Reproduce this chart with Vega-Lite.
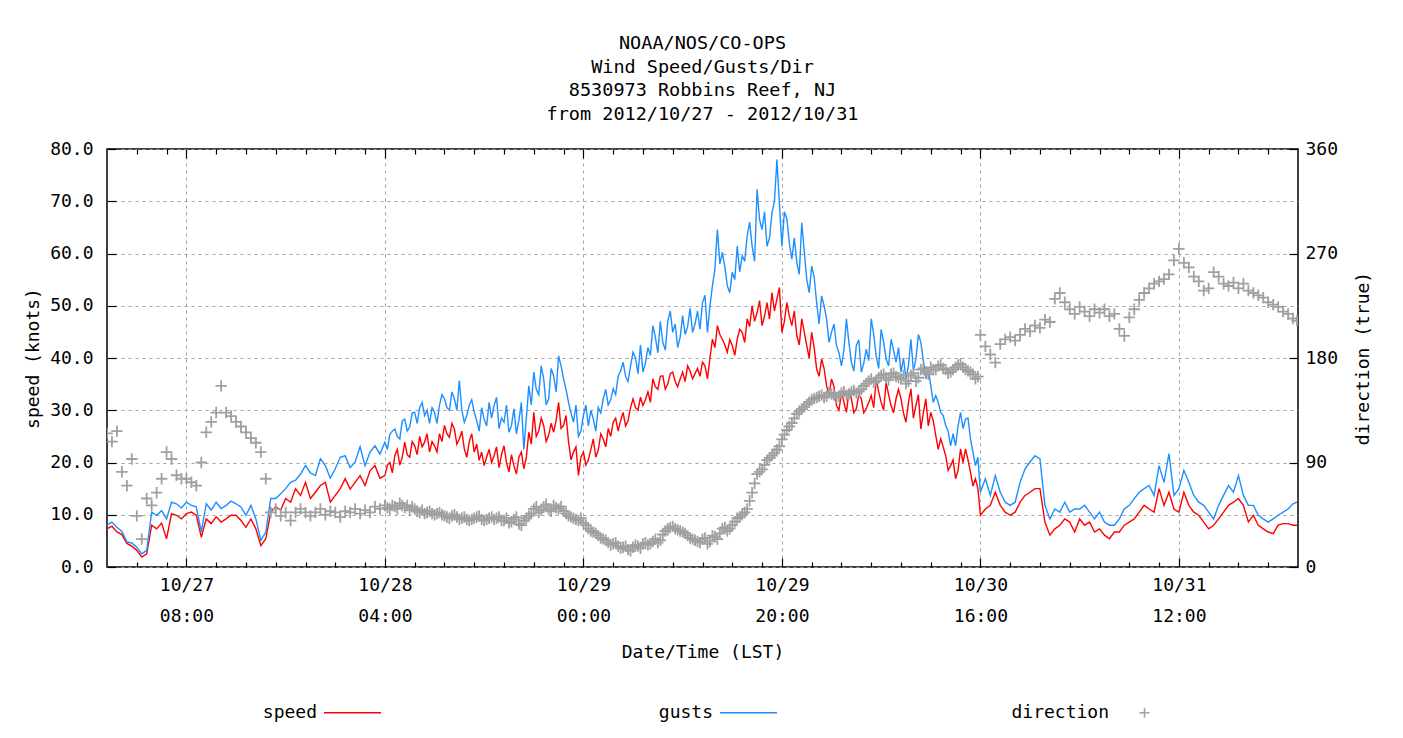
{
  "$schema": "https://vega.github.io/schema/vega-lite/v6.json",
  "width": 1191,
  "height": 418,
  "autosize": "none",
  "padding": {"left": 107, "top": 149, "right": 105, "bottom": 171},
  "background": "white",
  "config": {
    "font": "DejaVu Sans Mono",
    "view": {"stroke": "#000000", "strokeWidth": 1.5},
    "axis": {
      "labelFont": "DejaVu Sans Mono", "labelFontSize": 18, "labelColor": "#000000",
      "titleFont": "DejaVu Sans Mono", "titleFontSize": 18, "titleFontWeight": "normal", "titleColor": "#000000",
      "domain": false, "tickColor": "#000000", "tickWidth": 1.2,
      "gridColor": "#a0a0a0", "gridDash": [3, 4], "gridWidth": 1
    },
    "legend": {
      "labelFont": "DejaVu Sans Mono", "labelFontSize": 18, "labelColor": "#000000"
    }
  },
  "title": {
    "text": ["NOAA/NOS/CO-OPS", "Wind Speed/Gusts/Dir", "8530973 Robbins Reef, NJ", "from 2012/10/27 - 2012/10/31"],
    "anchor": "middle", "font": "DejaVu Sans Mono", "fontSize": 18.5, "fontWeight": "normal",
    "lineHeight": 23.5, "offset": 17, "color": "#000000"
  },
  "data": {"values": [
    {"t":"2012-10-27T00:00","speed":7.3,"gusts":8.0,"dir":115},
    {"t":"2012-10-27T00:30","speed":7.8,"gusts":8.6,"dir":108},
    {"t":"2012-10-27T01:00","speed":6.7,"gusts":7.6,"dir":117},
    {"t":"2012-10-27T01:30","speed":6.2,"gusts":6.8,"dir":82},
    {"t":"2012-10-27T02:00","speed":4.5,"gusts":4.8,"dir":70},
    {"t":"2012-10-27T02:30","speed":4.0,"gusts":4.6,"dir":93},
    {"t":"2012-10-27T03:00","speed":3.2,"gusts":3.8,"dir":44},
    {"t":"2012-10-27T03:30","speed":1.9,"gusts":2.5,"dir":24},
    {"t":"2012-10-27T04:00","speed":2.5,"gusts":3.2,"dir":59},
    {"t":"2012-10-27T04:30","speed":8.0,"gusts":10.5,"dir":53},
    {"t":"2012-10-27T05:00","speed":7.3,"gusts":9.9,"dir":64},
    {"t":"2012-10-27T05:30","speed":8.4,"gusts":10.8,"dir":76},
    {"t":"2012-10-27T06:00","speed":5.4,"gusts":9.2,"dir":99},
    {"t":"2012-10-27T06:30","speed":10.2,"gusts":12.4,"dir":93},
    {"t":"2012-10-27T07:00","speed":9.9,"gusts":12.1,"dir":79},
    {"t":"2012-10-27T07:30","speed":9.2,"gusts":11.3,"dir":76},
    {"t":"2012-10-27T08:00","speed":10.2,"gusts":12.4,"dir":76},
    {"t":"2012-10-27T08:30","speed":10.5,"gusts":11.8,"dir":73},
    {"t":"2012-10-27T09:00","speed":9.9,"gusts":11.5,"dir":70},
    {"t":"2012-10-27T09:30","speed":5.7,"gusts":6.7,"dir":90},
    {"t":"2012-10-27T10:00","speed":9.2,"gusts":12.1,"dir":116},
    {"t":"2012-10-27T10:30","speed":8.3,"gusts":10.9,"dir":125},
    {"t":"2012-10-27T11:00","speed":9.6,"gusts":12.4,"dir":133},
    {"t":"2012-10-27T11:30","speed":8.6,"gusts":11.2,"dir":156},
    {"t":"2012-10-27T12:00","speed":9.2,"gusts":11.8,"dir":133},
    {"t":"2012-10-27T12:30","speed":9.9,"gusts":12.6,"dir":130},
    {"t":"2012-10-27T13:00","speed":9.9,"gusts":12.1,"dir":125},
    {"t":"2012-10-27T13:30","speed":8.9,"gusts":11.5,"dir":121},
    {"t":"2012-10-27T14:00","speed":7.6,"gusts":9.9,"dir":116},
    {"t":"2012-10-27T14:30","speed":9.2,"gusts":11.8,"dir":111},
    {"t":"2012-10-27T15:00","speed":7.3,"gusts":9.2,"dir":107},
    {"t":"2012-10-27T15:30","speed":4.1,"gusts":5.1,"dir":99},
    {"t":"2012-10-27T16:00","speed":5.4,"gusts":6.7,"dir":76},
    {"t":"2012-10-27T16:30","speed":10.5,"gusts":13.1,"dir":47},
    {"t":"2012-10-27T17:00","speed":11.5,"gusts":13.1,"dir":50},
    {"t":"2012-10-27T17:30","speed":10.9,"gusts":14.0,"dir":44},
    {"t":"2012-10-27T18:00","speed":13.1,"gusts":15.0,"dir":47},
    {"t":"2012-10-27T18:30","speed":12.4,"gusts":16.2,"dir":40},
    {"t":"2012-10-27T19:00","speed":15.0,"gusts":16.6,"dir":47},
    {"t":"2012-10-27T19:30","speed":13.7,"gusts":17.8,"dir":50},
    {"t":"2012-10-27T20:00","speed":16.2,"gusts":19.4,"dir":47},
    {"t":"2012-10-27T20:30","speed":13.1,"gusts":18.0,"dir":44},
    {"t":"2012-10-27T21:00","speed":14.3,"gusts":17.5,"dir":47},
    {"t":"2012-10-27T21:30","speed":15.6,"gusts":20.7,"dir":50},
    {"t":"2012-10-27T22:00","speed":16.2,"gusts":19.4,"dir":45},
    {"t":"2012-10-27T22:30","speed":12.4,"gusts":17.0,"dir":48},
    {"t":"2012-10-27T23:00","speed":13.7,"gusts":18.8,"dir":47},
    {"t":"2012-10-27T23:30","speed":15.0,"gusts":21.0,"dir":43},
    {"t":"2012-10-28T00:00","speed":16.9,"gusts":21.3,"dir":48},
    {"t":"2012-10-28T00:30","speed":14.9,"gusts":19.0,"dir":47},
    {"t":"2012-10-28T01:00","speed":16.2,"gusts":20.1,"dir":50},
    {"t":"2012-10-28T01:30","speed":17.5,"gusts":23.0,"dir":46},
    {"t":"2012-10-28T02:00","speed":15.6,"gusts":19.4,"dir":49},
    {"t":"2012-10-28T02:30","speed":18.4,"gusts":22.0,"dir":47},
    {"t":"2012-10-28T03:00","speed":19.4,"gusts":23.2,"dir":52},
    {"t":"2012-10-28T03:30","speed":17.0,"gusts":21.6,"dir":50},
    {"t":"2012-10-28T04:00","speed":17.5,"gusts":23.9,"dir":53},
    {"t":"2012-10-28T04:30","speed":20.0,"gusts":25.4,"dir":50},
    {"t":"2012-10-28T05:00","speed":21.3,"gusts":26.4,"dir":52},
    {"t":"2012-10-28T05:30","speed":19.5,"gusts":24.5,"dir":55},
    {"t":"2012-10-28T06:00","speed":23.9,"gusts":28.3,"dir":51},
    {"t":"2012-10-28T06:30","speed":21.0,"gusts":26.8,"dir":49},
    {"t":"2012-10-28T07:00","speed":23.2,"gusts":29.6,"dir":50},
    {"t":"2012-10-28T07:30","speed":25.0,"gusts":30.5,"dir":47},
    {"t":"2012-10-28T08:00","speed":23.9,"gusts":29.0,"dir":46},
    {"t":"2012-10-28T08:30","speed":22.0,"gusts":27.5,"dir":48},
    {"t":"2012-10-28T09:00","speed":23.2,"gusts":29.6,"dir":45},
    {"t":"2012-10-28T09:30","speed":25.5,"gusts":31.0,"dir":47},
    {"t":"2012-10-28T10:00","speed":27.1,"gusts":32.2,"dir":44},
    {"t":"2012-10-28T10:30","speed":24.8,"gusts":30.0,"dir":42},
    {"t":"2012-10-28T11:00","speed":26.4,"gusts":32.2,"dir":45},
    {"t":"2012-10-28T11:30","speed":24.5,"gusts":35.7,"dir":41},
    {"t":"2012-10-28T12:00","speed":22.6,"gusts":27.7,"dir":43},
    {"t":"2012-10-28T12:30","speed":24.0,"gusts":31.0,"dir":40},
    {"t":"2012-10-28T13:00","speed":22.0,"gusts":29.6,"dir":42},
    {"t":"2012-10-28T13:30","speed":20.4,"gusts":26.0,"dir":44},
    {"t":"2012-10-28T14:00","speed":19.4,"gusts":28.3,"dir":40},
    {"t":"2012-10-28T14:30","speed":22.5,"gusts":31.5,"dir":42},
    {"t":"2012-10-28T15:00","speed":21.3,"gusts":30.9,"dir":41},
    {"t":"2012-10-28T15:30","speed":19.0,"gusts":26.5,"dir":43},
    {"t":"2012-10-28T16:00","speed":23.2,"gusts":27.7,"dir":40},
    {"t":"2012-10-28T16:30","speed":18.2,"gusts":25.8,"dir":38},
    {"t":"2012-10-28T17:00","speed":19.4,"gusts":30.3,"dir":41},
    {"t":"2012-10-28T17:30","speed":21.0,"gusts":28.0,"dir":37},
    {"t":"2012-10-28T18:00","speed":18.8,"gusts":22.5,"dir":40},
    {"t":"2012-10-28T18:30","speed":25.8,"gusts":34.7,"dir":44},
    {"t":"2012-10-28T19:00","speed":29.6,"gusts":37.3,"dir":50},
    {"t":"2012-10-28T19:30","speed":26.0,"gusts":33.0,"dir":47},
    {"t":"2012-10-28T20:00","speed":27.1,"gusts":36.0,"dir":52},
    {"t":"2012-10-28T20:30","speed":25.2,"gusts":32.2,"dir":50},
    {"t":"2012-10-28T21:00","speed":25.8,"gusts":36.6,"dir":53},
    {"t":"2012-10-28T21:30","speed":31.5,"gusts":40.4,"dir":50},
    {"t":"2012-10-28T22:00","speed":27.1,"gusts":36.0,"dir":48},
    {"t":"2012-10-28T22:30","speed":24.0,"gusts":31.5,"dir":44},
    {"t":"2012-10-28T23:00","speed":22.0,"gusts":27.7,"dir":42},
    {"t":"2012-10-28T23:30","speed":17.5,"gusts":25.0,"dir":40},
    {"t":"2012-10-29T00:00","speed":22.0,"gusts":29.0,"dir":38},
    {"t":"2012-10-29T00:30","speed":20.5,"gusts":27.0,"dir":33},
    {"t":"2012-10-29T01:00","speed":24.5,"gusts":28.3,"dir":30},
    {"t":"2012-10-29T01:30","speed":22.4,"gusts":30.5,"dir":27},
    {"t":"2012-10-29T02:00","speed":24.5,"gusts":32.2,"dir":24},
    {"t":"2012-10-29T02:30","speed":26.5,"gusts":31.0,"dir":21},
    {"t":"2012-10-29T03:00","speed":27.7,"gusts":34.1,"dir":20},
    {"t":"2012-10-29T03:30","speed":26.0,"gusts":36.5,"dir":18},
    {"t":"2012-10-29T04:00","speed":29.6,"gusts":39.2,"dir":17},
    {"t":"2012-10-29T04:30","speed":28.0,"gusts":35.5,"dir":15},
    {"t":"2012-10-29T05:00","speed":32.2,"gusts":41.1,"dir":17},
    {"t":"2012-10-29T05:30","speed":30.0,"gusts":37.0,"dir":18},
    {"t":"2012-10-29T06:00","speed":30.9,"gusts":37.3,"dir":20},
    {"t":"2012-10-29T06:30","speed":33.5,"gusts":42.0,"dir":19},
    {"t":"2012-10-29T07:00","speed":36.0,"gusts":46.2,"dir":22},
    {"t":"2012-10-29T07:30","speed":34.0,"gusts":41.0,"dir":21},
    {"t":"2012-10-29T08:00","speed":36.6,"gusts":43.0,"dir":28},
    {"t":"2012-10-29T08:30","speed":35.0,"gusts":47.0,"dir":33},
    {"t":"2012-10-29T09:00","speed":37.3,"gusts":44.9,"dir":35},
    {"t":"2012-10-29T09:30","speed":34.5,"gusts":42.0,"dir":32},
    {"t":"2012-10-29T10:00","speed":37.3,"gusts":48.1,"dir":30},
    {"t":"2012-10-29T10:30","speed":38.5,"gusts":46.0,"dir":27},
    {"t":"2012-10-29T11:00","speed":36.0,"gusts":44.9,"dir":24},
    {"t":"2012-10-29T11:30","speed":38.0,"gusts":49.0,"dir":22},
    {"t":"2012-10-29T12:00","speed":39.2,"gusts":50.6,"dir":24},
    {"t":"2012-10-29T12:30","speed":36.0,"gusts":44.9,"dir":20},
    {"t":"2012-10-29T13:00","speed":43.6,"gusts":53.8,"dir":27},
    {"t":"2012-10-29T13:30","speed":46.2,"gusts":64.6,"dir":24},
    {"t":"2012-10-29T14:00","speed":43.6,"gusts":60.2,"dir":33},
    {"t":"2012-10-29T14:30","speed":41.1,"gusts":53.8,"dir":31},
    {"t":"2012-10-29T15:00","speed":42.4,"gusts":56.4,"dir":36},
    {"t":"2012-10-29T15:30","speed":43.6,"gusts":61.4,"dir":42},
    {"t":"2012-10-29T16:00","speed":44.9,"gusts":59.6,"dir":45},
    {"t":"2012-10-29T16:30","speed":47.5,"gusts":63.4,"dir":50},
    {"t":"2012-10-29T17:00","speed":50.0,"gusts":61.4,"dir":64},
    {"t":"2012-10-29T17:30","speed":48.7,"gusts":72.3,"dir":80},
    {"t":"2012-10-29T18:00","speed":46.2,"gusts":64.6,"dir":84},
    {"t":"2012-10-29T18:30","speed":50.6,"gusts":61.4,"dir":92},
    {"t":"2012-10-29T19:00","speed":52.5,"gusts":67.8,"dir":96},
    {"t":"2012-10-29T19:30","speed":51.3,"gusts":78.0,"dir":101},
    {"t":"2012-10-29T20:00","speed":44.9,"gusts":61.4,"dir":110},
    {"t":"2012-10-29T20:30","speed":50.6,"gusts":66.6,"dir":118},
    {"t":"2012-10-29T21:00","speed":46.2,"gusts":58.9,"dir":124},
    {"t":"2012-10-29T21:30","speed":44.3,"gusts":58.3,"dir":132},
    {"t":"2012-10-29T22:00","speed":47.5,"gusts":65.9,"dir":136},
    {"t":"2012-10-29T22:30","speed":42.4,"gusts":55.1,"dir":140},
    {"t":"2012-10-29T23:00","speed":44.9,"gusts":57.6,"dir":144},
    {"t":"2012-10-29T23:30","speed":37.9,"gusts":50.6,"dir":146},
    {"t":"2012-10-30T00:00","speed":39.8,"gusts":51.9,"dir":148},
    {"t":"2012-10-30T00:30","speed":34.7,"gusts":47.5,"dir":147},
    {"t":"2012-10-30T01:00","speed":36.0,"gusts":44.9,"dir":149},
    {"t":"2012-10-30T01:30","speed":30.9,"gusts":42.4,"dir":146},
    {"t":"2012-10-30T02:00","speed":33.4,"gusts":38.5,"dir":150},
    {"t":"2012-10-30T02:30","speed":29.6,"gusts":47.5,"dir":148},
    {"t":"2012-10-30T03:00","speed":32.2,"gusts":39.2,"dir":151},
    {"t":"2012-10-30T03:30","speed":30.3,"gusts":42.4,"dir":150},
    {"t":"2012-10-30T04:00","speed":32.2,"gusts":37.3,"dir":153},
    {"t":"2012-10-30T04:30","speed":30.3,"gusts":41.7,"dir":158},
    {"t":"2012-10-30T05:00","speed":32.8,"gusts":47.5,"dir":162},
    {"t":"2012-10-30T05:30","speed":36.0,"gusts":40.4,"dir":160},
    {"t":"2012-10-30T06:00","speed":31.5,"gusts":45.5,"dir":165},
    {"t":"2012-10-30T06:30","speed":35.3,"gusts":39.8,"dir":163},
    {"t":"2012-10-30T07:00","speed":30.9,"gusts":43.6,"dir":166},
    {"t":"2012-10-30T07:30","speed":32.2,"gusts":39.2,"dir":164},
    {"t":"2012-10-30T08:00","speed":32.2,"gusts":37.3,"dir":162},
    {"t":"2012-10-30T08:30","speed":27.7,"gusts":36.0,"dir":158},
    {"t":"2012-10-30T09:00","speed":34.1,"gusts":43.6,"dir":165},
    {"t":"2012-10-30T09:30","speed":30.9,"gusts":39.8,"dir":160},
    {"t":"2012-10-30T10:00","speed":26.4,"gusts":43.0,"dir":170},
    {"t":"2012-10-30T10:30","speed":32.2,"gusts":36.0,"dir":168},
    {"t":"2012-10-30T11:00","speed":29.6,"gusts":34.7,"dir":172},
    {"t":"2012-10-30T11:30","speed":25.2,"gusts":32.8,"dir":170},
    {"t":"2012-10-30T12:00","speed":24.5,"gusts":29.6,"dir":174},
    {"t":"2012-10-30T12:30","speed":21.3,"gusts":27.1,"dir":170},
    {"t":"2012-10-30T13:00","speed":19.4,"gusts":23.2,"dir":168},
    {"t":"2012-10-30T13:30","speed":16.9,"gusts":23.2,"dir":172},
    {"t":"2012-10-30T14:00","speed":22.6,"gusts":29.6,"dir":175},
    {"t":"2012-10-30T14:30","speed":22.6,"gusts":28.3,"dir":170},
    {"t":"2012-10-30T15:00","speed":18.2,"gusts":24.5,"dir":168},
    {"t":"2012-10-30T15:30","speed":16.9,"gusts":19.4,"dir":162},
    {"t":"2012-10-30T16:00","speed":9.9,"gusts":14.3,"dir":200},
    {"t":"2012-10-30T16:30","speed":11.1,"gusts":16.9,"dir":190},
    {"t":"2012-10-30T17:00","speed":11.8,"gusts":13.7,"dir":183},
    {"t":"2012-10-30T17:30","speed":14.3,"gusts":17.5,"dir":176},
    {"t":"2012-10-30T18:00","speed":11.8,"gusts":14.3,"dir":192},
    {"t":"2012-10-30T18:30","speed":10.5,"gusts":12.4,"dir":196},
    {"t":"2012-10-30T19:00","speed":9.9,"gusts":11.8,"dir":198},
    {"t":"2012-10-30T19:30","speed":10.5,"gusts":12.4,"dir":195},
    {"t":"2012-10-30T20:00","speed":12.4,"gusts":16.2,"dir":200},
    {"t":"2012-10-30T20:30","speed":13.7,"gusts":18.8,"dir":205},
    {"t":"2012-10-30T21:00","speed":14.3,"gusts":20.1,"dir":203},
    {"t":"2012-10-30T21:30","speed":15.0,"gusts":21.3,"dir":208},
    {"t":"2012-10-30T22:00","speed":15.0,"gusts":20.7,"dir":206},
    {"t":"2012-10-30T22:30","speed":8.6,"gusts":11.8,"dir":213},
    {"t":"2012-10-30T23:00","speed":6.1,"gusts":9.2,"dir":211},
    {"t":"2012-10-30T23:30","speed":7.3,"gusts":11.1,"dir":231},
    {"t":"2012-10-31T00:00","speed":8.0,"gusts":10.5,"dir":236},
    {"t":"2012-10-31T00:30","speed":9.2,"gusts":12.4,"dir":228},
    {"t":"2012-10-31T01:00","speed":8.6,"gusts":10.5,"dir":222},
    {"t":"2012-10-31T01:30","speed":6.7,"gusts":11.1,"dir":218},
    {"t":"2012-10-31T02:00","speed":9.2,"gusts":11.1,"dir":224},
    {"t":"2012-10-31T02:30","speed":8.0,"gusts":11.8,"dir":220},
    {"t":"2012-10-31T03:00","speed":8.6,"gusts":10.5,"dir":216},
    {"t":"2012-10-31T03:30","speed":6.7,"gusts":9.2,"dir":222},
    {"t":"2012-10-31T04:00","speed":7.3,"gusts":10.5,"dir":219},
    {"t":"2012-10-31T04:30","speed":6.1,"gusts":8.6,"dir":222},
    {"t":"2012-10-31T05:00","speed":5.4,"gusts":8.0,"dir":216},
    {"t":"2012-10-31T05:30","speed":6.7,"gusts":8.0,"dir":218},
    {"t":"2012-10-31T06:00","speed":6.7,"gusts":9.2,"dir":205},
    {"t":"2012-10-31T06:30","speed":8.0,"gusts":11.1,"dir":199},
    {"t":"2012-10-31T07:00","speed":8.6,"gusts":11.8,"dir":215},
    {"t":"2012-10-31T07:30","speed":9.2,"gusts":13.1,"dir":222},
    {"t":"2012-10-31T08:00","speed":10.5,"gusts":14.3,"dir":230},
    {"t":"2012-10-31T08:30","speed":11.8,"gusts":15.0,"dir":236},
    {"t":"2012-10-31T09:00","speed":11.1,"gusts":15.6,"dir":240},
    {"t":"2012-10-31T09:30","speed":10.5,"gusts":13.7,"dir":244},
    {"t":"2012-10-31T10:00","speed":15.0,"gusts":19.4,"dir":246},
    {"t":"2012-10-31T10:30","speed":11.8,"gusts":16.2,"dir":248},
    {"t":"2012-10-31T11:00","speed":14.3,"gusts":21.7,"dir":252},
    {"t":"2012-10-31T11:30","speed":11.1,"gusts":13.7,"dir":264},
    {"t":"2012-10-31T12:00","speed":10.5,"gusts":15.0,"dir":274},
    {"t":"2012-10-31T12:30","speed":14.3,"gusts":18.5,"dir":262},
    {"t":"2012-10-31T13:00","speed":11.8,"gusts":16.2,"dir":258},
    {"t":"2012-10-31T13:30","speed":10.5,"gusts":13.7,"dir":250},
    {"t":"2012-10-31T14:00","speed":9.9,"gusts":12.4,"dir":246},
    {"t":"2012-10-31T14:30","speed":8.6,"gusts":11.8,"dir":238},
    {"t":"2012-10-31T15:00","speed":7.3,"gusts":10.5,"dir":240},
    {"t":"2012-10-31T15:30","speed":8.0,"gusts":9.2,"dir":254},
    {"t":"2012-10-31T16:00","speed":9.2,"gusts":11.8,"dir":250},
    {"t":"2012-10-31T16:30","speed":10.5,"gusts":13.7,"dir":244},
    {"t":"2012-10-31T17:00","speed":11.8,"gusts":15.6,"dir":242},
    {"t":"2012-10-31T17:30","speed":12.4,"gusts":14.3,"dir":245},
    {"t":"2012-10-31T18:00","speed":13.1,"gusts":17.5,"dir":240},
    {"t":"2012-10-31T18:30","speed":11.8,"gusts":13.7,"dir":244},
    {"t":"2012-10-31T19:00","speed":8.6,"gusts":11.8,"dir":238},
    {"t":"2012-10-31T19:30","speed":9.9,"gusts":11.8,"dir":236},
    {"t":"2012-10-31T20:00","speed":8.0,"gusts":9.9,"dir":234},
    {"t":"2012-10-31T20:30","speed":7.3,"gusts":9.2,"dir":232},
    {"t":"2012-10-31T21:00","speed":6.7,"gusts":8.6,"dir":228},
    {"t":"2012-10-31T21:30","speed":6.4,"gusts":9.2,"dir":226},
    {"t":"2012-10-31T22:00","speed":8.0,"gusts":9.9,"dir":224},
    {"t":"2012-10-31T22:30","speed":8.3,"gusts":10.5,"dir":220},
    {"t":"2012-10-31T23:00","speed":8.3,"gusts":11.1,"dir":218},
    {"t":"2012-10-31T23:30","speed":8.0,"gusts":12.1,"dir":214},
    {"t":"2012-10-31T23:54","speed":8.0,"gusts":12.4,"dir":212},
    {"t":"2012-10-28T04:15","speed":19.5,"gusts":22.5,"dir":51},
    {"t":"2012-10-28T04:45","speed":18.0,"gusts":26.0,"dir":53},
    {"t":"2012-10-28T05:15","speed":22.5,"gusts":25.0,"dir":50},
    {"t":"2012-10-28T05:45","speed":21.0,"gusts":28.0,"dir":53},
    {"t":"2012-10-28T06:15","speed":21.5,"gusts":26.0,"dir":53},
    {"t":"2012-10-28T06:45","speed":24.0,"gusts":29.5,"dir":52},
    {"t":"2012-10-28T07:15","speed":21.5,"gusts":27.5,"dir":48},
    {"t":"2012-10-28T07:45","speed":23.0,"gusts":31.5,"dir":49},
    {"t":"2012-10-28T08:15","speed":25.5,"gusts":30.0,"dir":47},
    {"t":"2012-10-28T08:45","speed":24.0,"gusts":30.5,"dir":46},
    {"t":"2012-10-28T09:15","speed":22.0,"gusts":27.5,"dir":46},
    {"t":"2012-10-28T09:45","speed":24.0,"gusts":33.0,"dir":45},
    {"t":"2012-10-28T10:15","speed":25.5,"gusts":30.5,"dir":43},
    {"t":"2012-10-28T10:45","speed":27.5,"gusts":33.5,"dir":44},
    {"t":"2012-10-28T11:15","speed":23.5,"gusts":30.0,"dir":43},
    {"t":"2012-10-28T11:45","speed":26.0,"gusts":30.0,"dir":42},
    {"t":"2012-10-28T12:15","speed":21.0,"gusts":29.0,"dir":41},
    {"t":"2012-10-28T12:45","speed":25.5,"gusts":32.0,"dir":41},
    {"t":"2012-10-28T13:15","speed":23.5,"gusts":28.0,"dir":43},
    {"t":"2012-10-28T13:45","speed":22.0,"gusts":30.5,"dir":41},
    {"t":"2012-10-28T14:15","speed":21.0,"gusts":27.0,"dir":41},
    {"t":"2012-10-28T14:45","speed":20.0,"gusts":28.5,"dir":43},
    {"t":"2012-10-28T15:15","speed":23.0,"gusts":32.5,"dir":42},
    {"t":"2012-10-28T15:45","speed":21.5,"gusts":28.5,"dir":40},
    {"t":"2012-10-28T16:15","speed":20.0,"gusts":31.0,"dir":42},
    {"t":"2012-10-28T16:45","speed":21.5,"gusts":27.0,"dir":39},
    {"t":"2012-10-28T17:15","speed":17.8,"gusts":25.5,"dir":43},
    {"t":"2012-10-28T17:45","speed":22.0,"gusts":31.5,"dir":36},
    {"t":"2012-10-28T18:15","speed":21.0,"gusts":28.5,"dir":42},
    {"t":"2012-10-28T18:45","speed":23.5,"gusts":31.0,"dir":46},
    {"t":"2012-10-28T19:15","speed":25.0,"gusts":34.0,"dir":52},
    {"t":"2012-10-28T19:45","speed":28.5,"gusts":38.5,"dir":49},
    {"t":"2012-10-28T20:15","speed":24.0,"gusts":31.0,"dir":54},
    {"t":"2012-10-28T20:45","speed":27.5,"gusts":38.0,"dir":48},
    {"t":"2012-10-28T21:15","speed":28.0,"gusts":33.5,"dir":51},
    {"t":"2012-10-28T21:45","speed":26.5,"gusts":38.5,"dir":52},
    {"t":"2012-10-28T22:15","speed":29.0,"gusts":34.0,"dir":46},
    {"t":"2012-10-28T22:45","speed":20.5,"gusts":29.5,"dir":43},
    {"t":"2012-10-28T23:15","speed":23.0,"gusts":31.0,"dir":41},
    {"t":"2012-10-28T23:45","speed":21.0,"gusts":26.0,"dir":42},
    {"t":"2012-10-29T00:15","speed":19.5,"gusts":31.0,"dir":36},
    {"t":"2012-10-29T00:45","speed":22.5,"gusts":30.0,"dir":31},
    {"t":"2012-10-29T01:15","speed":21.0,"gusts":26.0,"dir":29},
    {"t":"2012-10-29T01:45","speed":25.5,"gusts":29.5,"dir":25},
    {"t":"2012-10-29T02:15","speed":23.0,"gusts":34.0,"dir":23},
    {"t":"2012-10-29T02:45","speed":25.0,"gusts":32.0,"dir":19},
    {"t":"2012-10-29T03:15","speed":28.5,"gusts":33.0,"dir":21},
    {"t":"2012-10-29T03:45","speed":28.0,"gusts":37.5,"dir":16},
    {"t":"2012-10-29T04:15","speed":27.0,"gusts":36.5,"dir":18},
    {"t":"2012-10-29T04:45","speed":30.5,"gusts":38.5,"dir":14},
    {"t":"2012-10-29T05:15","speed":30.5,"gusts":40.0,"dir":19},
    {"t":"2012-10-29T05:45","speed":32.5,"gusts":42.5,"dir":16},
    {"t":"2012-10-29T06:15","speed":32.0,"gusts":39.0,"dir":21},
    {"t":"2012-10-29T06:45","speed":31.5,"gusts":40.5,"dir":20},
    {"t":"2012-10-29T07:15","speed":34.5,"gusts":44.0,"dir":24},
    {"t":"2012-10-29T07:45","speed":36.5,"gusts":47.0,"dir":23},
    {"t":"2012-10-29T08:15","speed":34.0,"gusts":41.5,"dir":31},
    {"t":"2012-10-29T08:45","speed":37.0,"gusts":49.0,"dir":34},
    {"t":"2012-10-29T09:15","speed":35.5,"gusts":46.5,"dir":33},
    {"t":"2012-10-29T09:45","speed":36.0,"gusts":44.0,"dir":31},
    {"t":"2012-10-29T10:15","speed":35.5,"gusts":44.5,"dir":29},
    {"t":"2012-10-29T10:45","speed":37.5,"gusts":49.5,"dir":25},
    {"t":"2012-10-29T11:15","speed":37.0,"gusts":46.5,"dir":23},
    {"t":"2012-10-29T11:45","speed":36.5,"gusts":45.5,"dir":21},
    {"t":"2012-10-29T12:15","speed":38.5,"gusts":52.0,"dir":25},
    {"t":"2012-10-29T12:45","speed":40.0,"gusts":50.0,"dir":22},
    {"t":"2012-10-29T13:15","speed":42.0,"gusts":57.0,"dir":26},
    {"t":"2012-10-29T13:45","speed":44.5,"gusts":58.0,"dir":29},
    {"t":"2012-10-29T14:15","speed":42.5,"gusts":57.5,"dir":34},
    {"t":"2012-10-29T14:45","speed":43.5,"gusts":52.5,"dir":33},
    {"t":"2012-10-29T15:15","speed":40.5,"gusts":55.0,"dir":39},
    {"t":"2012-10-29T15:45","speed":45.5,"gusts":56.5,"dir":43},
    {"t":"2012-10-29T16:15","speed":43.0,"gusts":58.5,"dir":47},
    {"t":"2012-10-29T16:45","speed":46.0,"gusts":66.0,"dir":57},
    {"t":"2012-10-29T17:15","speed":47.0,"gusts":58.5,"dir":72},
    {"t":"2012-10-29T17:45","speed":51.0,"gusts":66.5,"dir":82},
    {"t":"2012-10-29T18:15","speed":48.0,"gusts":68.0,"dir":88},
    {"t":"2012-10-29T18:45","speed":47.5,"gusts":63.0,"dir":94},
    {"t":"2012-10-29T19:15","speed":49.0,"gusts":70.0,"dir":98},
    {"t":"2012-10-29T19:45","speed":53.5,"gusts":69.5,"dir":104},
    {"t":"2012-10-29T20:15","speed":47.0,"gusts":68.0,"dir":114},
    {"t":"2012-10-29T20:45","speed":48.0,"gusts":62.0,"dir":121},
    {"t":"2012-10-29T21:15","speed":49.0,"gusts":63.0,"dir":128},
    {"t":"2012-10-29T21:45","speed":42.5,"gusts":56.0,"dir":134},
    {"t":"2012-10-29T22:15","speed":45.0,"gusts":60.5,"dir":138},
    {"t":"2012-10-29T22:45","speed":40.0,"gusts":52.5,"dir":142},
    {"t":"2012-10-29T23:15","speed":42.0,"gusts":55.5,"dir":145},
    {"t":"2012-10-29T23:45","speed":36.5,"gusts":46.5,"dir":147},
    {"t":"2012-10-30T00:15","speed":38.0,"gusts":50.0,"dir":146},
    {"t":"2012-10-30T00:45","speed":33.0,"gusts":43.0,"dir":150},
    {"t":"2012-10-30T01:15","speed":34.5,"gusts":46.5,"dir":148},
    {"t":"2012-10-30T01:45","speed":30.0,"gusts":41.0,"dir":147},
    {"t":"2012-10-30T02:15","speed":31.5,"gusts":41.5,"dir":151},
    {"t":"2012-10-30T02:45","speed":33.5,"gusts":43.0,"dir":149},
    {"t":"2012-10-30T03:15","speed":29.5,"gusts":37.5,"dir":152},
    {"t":"2012-10-30T03:45","speed":33.0,"gusts":43.5,"dir":151},
    {"t":"2012-10-30T04:15","speed":29.5,"gusts":39.0,"dir":156},
    {"t":"2012-10-30T04:45","speed":31.5,"gusts":39.5,"dir":160},
    {"t":"2012-10-30T05:15","speed":30.5,"gusts":44.5,"dir":159},
    {"t":"2012-10-30T05:45","speed":33.5,"gusts":38.0,"dir":163},
    {"t":"2012-10-30T06:15","speed":30.0,"gusts":43.0,"dir":166},
    {"t":"2012-10-30T06:45","speed":33.0,"gusts":38.5,"dir":161},
    {"t":"2012-10-30T07:15","speed":29.5,"gusts":41.5,"dir":167},
    {"t":"2012-10-30T07:45","speed":34.0,"gusts":42.0,"dir":163},
    {"t":"2012-10-30T08:15","speed":29.5,"gusts":40.0,"dir":165},
    {"t":"2012-10-30T08:45","speed":31.5,"gusts":38.5,"dir":160},
    {"t":"2012-10-30T09:15","speed":28.5,"gusts":37.5,"dir":167},
    {"t":"2012-10-30T09:45","speed":33.0,"gusts":44.5,"dir":163},
    {"t":"2012-10-30T10:15","speed":29.5,"gusts":39.5,"dir":171},
    {"t":"2012-10-30T10:45","speed":27.0,"gusts":38.0,"dir":166},
    {"t":"2012-10-30T11:15","speed":28.0,"gusts":31.5,"dir":170},
    {"t":"2012-10-30T11:45","speed":22.5,"gusts":31.5,"dir":173},
    {"t":"2012-10-30T12:15","speed":23.0,"gusts":29.0,"dir":171},
    {"t":"2012-10-30T12:45","speed":18.5,"gusts":26.0,"dir":167},
    {"t":"2012-10-30T13:15","speed":20.5,"gusts":25.5,"dir":170},
    {"t":"2012-10-30T13:45","speed":18.5,"gusts":27.0,"dir":174},
    {"t":"2012-10-30T14:15","speed":20.0,"gusts":26.5,"dir":172},
    {"t":"2012-10-30T14:45","speed":20.5,"gusts":28.5,"dir":169},
    {"t":"2012-10-30T15:15","speed":15.5,"gusts":22.0,"dir":166},
    {"t":"2012-10-30T15:45","speed":15.0,"gusts":21.0,"dir":164}
  ]},
  "layer": [
    {
      "mark": {"type": "line", "strokeWidth": 1.4, "clip": true},
      "encoding": {
        "x": {
          "field": "t", "type": "temporal", "title": "Date/Time (LST)",
          "scale": {"domain": [{"year": 2012, "month": 10, "date": 27}, {"year": 2012, "month": 11, "date": 1}]},
          "axis": {
            "orient": "bottom",
            "values": [
              {"year":2012,"month":10,"date":27,"hours":3},{"year":2012,"month":10,"date":27,"hours":6},
              {"year":2012,"month":10,"date":27,"hours":8},{"year":2012,"month":10,"date":27,"hours":11},
              {"year":2012,"month":10,"date":27,"hours":14},{"year":2012,"month":10,"date":27,"hours":17},
              {"year":2012,"month":10,"date":27,"hours":20},{"year":2012,"month":10,"date":27,"hours":23},
              {"year":2012,"month":10,"date":28,"hours":2},{"year":2012,"month":10,"date":28,"hours":4},
              {"year":2012,"month":10,"date":28,"hours":7},{"year":2012,"month":10,"date":28,"hours":10},
              {"year":2012,"month":10,"date":28,"hours":13},{"year":2012,"month":10,"date":28,"hours":16},
              {"year":2012,"month":10,"date":28,"hours":19},{"year":2012,"month":10,"date":28,"hours":22},
              {"year":2012,"month":10,"date":29,"hours":0},{"year":2012,"month":10,"date":29,"hours":3},
              {"year":2012,"month":10,"date":29,"hours":6},{"year":2012,"month":10,"date":29,"hours":9},
              {"year":2012,"month":10,"date":29,"hours":12},{"year":2012,"month":10,"date":29,"hours":15},
              {"year":2012,"month":10,"date":29,"hours":18},{"year":2012,"month":10,"date":29,"hours":20},
              {"year":2012,"month":10,"date":29,"hours":23},{"year":2012,"month":10,"date":30,"hours":2},
              {"year":2012,"month":10,"date":30,"hours":5},{"year":2012,"month":10,"date":30,"hours":8},
              {"year":2012,"month":10,"date":30,"hours":11},{"year":2012,"month":10,"date":30,"hours":14},
              {"year":2012,"month":10,"date":30,"hours":16},{"year":2012,"month":10,"date":30,"hours":19},
              {"year":2012,"month":10,"date":30,"hours":22},{"year":2012,"month":10,"date":31,"hours":1},
              {"year":2012,"month":10,"date":31,"hours":4},{"year":2012,"month":10,"date":31,"hours":7},
              {"year":2012,"month":10,"date":31,"hours":10},{"year":2012,"month":10,"date":31,"hours":12},
              {"year":2012,"month":10,"date":31,"hours":15},{"year":2012,"month":10,"date":31,"hours":18},
              {"year":2012,"month":10,"date":31,"hours":21}
            ],
            "labelExpr": "((datum.value - datetime(2012,9,27,8)) % 72000000 == 0) ? [timeFormat(datum.value, '%m/%d'), timeFormat(datum.value, '%H:%M')] : ''",
            "labelOverlap": false,
            "labelLineHeight": 31,
            "labelPadding": 18,
            "labelBaseline": "top",
            "tickSize": {"condition": {"test": "(datum.value - datetime(2012,9,27,8)) % 72000000 == 0", "value": -9}, "value": -5},
            "grid": true,
            "gridOpacity": {"condition": {"test": "(datum.value - datetime(2012,9,27,8)) % 72000000 == 0", "value": 1}, "value": 0},
            "titlePadding": 18
          }
        },
        "y": {
          "field": "speed", "type": "quantitative", "title": "speed (knots)",
          "scale": {"domain": [0, 80], "nice": false, "zero": true},
          "axis": {
            "orient": "left", "values": [0, 10, 20, 30, 40, 50, 60, 70, 80], "format": ".1f",
            "tickSize": -9, "labelPadding": 23, "grid": true, "titlePadding": 7
          }
        },
        "color": {
          "datum": "speed", "type": "nominal",
          "scale": {"domain": ["speed", "gusts", "direction"], "range": ["#ff0000", "#1e8fff", "#a0a0a0"]},
          "legend": {
            "orient": "none", "legendX": 216, "legendY": 534, "padding": 0,
            "direction": "horizontal", "title": null,
            "symbolType": "stroke", "symbolSize": 3249, "symbolStrokeWidth": 1.5,
            "labelAlign": "right", "labelOffset": -65,
            "gridAlign": "all", "columnPadding": 231,
            "encode": {
              "symbols": {"update": {
                "shape": {"signal": "datum.value === 'direction' ? 'M-1,0L1,0M0,-1L0,1' : 'stroke'"},
                "size": {"signal": "datum.value === 'direction' ? 100 : 3249"},
                "strokeWidth": {"value": 1.5}
              }}
            }
          }
        }
      }
    },
    {
      "mark": {"type": "line", "strokeWidth": 1.4, "clip": true},
      "encoding": {
        "x": {
          "field": "t", "type": "temporal",
          "axis": {
            "orient": "top", "title": null, "labels": false, "grid": false,
            "values": [
              {"year":2012,"month":10,"date":27,"hours":3},{"year":2012,"month":10,"date":27,"hours":6},
              {"year":2012,"month":10,"date":27,"hours":8},{"year":2012,"month":10,"date":27,"hours":11},
              {"year":2012,"month":10,"date":27,"hours":14},{"year":2012,"month":10,"date":27,"hours":17},
              {"year":2012,"month":10,"date":27,"hours":20},{"year":2012,"month":10,"date":27,"hours":23},
              {"year":2012,"month":10,"date":28,"hours":2},{"year":2012,"month":10,"date":28,"hours":4},
              {"year":2012,"month":10,"date":28,"hours":7},{"year":2012,"month":10,"date":28,"hours":10},
              {"year":2012,"month":10,"date":28,"hours":13},{"year":2012,"month":10,"date":28,"hours":16},
              {"year":2012,"month":10,"date":28,"hours":19},{"year":2012,"month":10,"date":28,"hours":22},
              {"year":2012,"month":10,"date":29,"hours":0},{"year":2012,"month":10,"date":29,"hours":3},
              {"year":2012,"month":10,"date":29,"hours":6},{"year":2012,"month":10,"date":29,"hours":9},
              {"year":2012,"month":10,"date":29,"hours":12},{"year":2012,"month":10,"date":29,"hours":15},
              {"year":2012,"month":10,"date":29,"hours":18},{"year":2012,"month":10,"date":29,"hours":20},
              {"year":2012,"month":10,"date":29,"hours":23},{"year":2012,"month":10,"date":30,"hours":2},
              {"year":2012,"month":10,"date":30,"hours":5},{"year":2012,"month":10,"date":30,"hours":8},
              {"year":2012,"month":10,"date":30,"hours":11},{"year":2012,"month":10,"date":30,"hours":14},
              {"year":2012,"month":10,"date":30,"hours":16},{"year":2012,"month":10,"date":30,"hours":19},
              {"year":2012,"month":10,"date":30,"hours":22},{"year":2012,"month":10,"date":31,"hours":1},
              {"year":2012,"month":10,"date":31,"hours":4},{"year":2012,"month":10,"date":31,"hours":7},
              {"year":2012,"month":10,"date":31,"hours":10},{"year":2012,"month":10,"date":31,"hours":12},
              {"year":2012,"month":10,"date":31,"hours":15},{"year":2012,"month":10,"date":31,"hours":18},
              {"year":2012,"month":10,"date":31,"hours":21}
            ],
            "tickSize": {"condition": {"test": "(datum.value - datetime(2012,9,27,8)) % 72000000 == 0", "value": -9}, "value": -5}
          }
        },
        "y": {
          "field": "gusts", "type": "quantitative",
          "scale": {"domain": [0, 80], "nice": false, "zero": true},
          "axis": null
        },
        "color": {"datum": "gusts", "type": "nominal"}
      }
    },
    {
      "mark": {"type": "point", "shape": "M-1,0L1,0M0,-1L0,1", "filled": false, "size": 130, "strokeWidth": 1.8, "opacity": 1, "clip": true},
      "encoding": {
        "x": {"field": "t", "type": "temporal", "axis": null},
        "y": {
          "field": "dir", "type": "quantitative",
          "scale": {"domain": [0, 360], "nice": false, "zero": true},
          "axis": {
            "orient": "right", "title": "direction (true)", "values": [0, 90, 180, 270, 360], "format": "d",
            "tickSize": -9, "labelPadding": 16, "grid": false, "titleAngle": 270, "titlePadding": 35
          }
        },
        "color": {"datum": "direction", "type": "nominal"}
      }
    }
  ],
  "resolve": {"scale": {"y": "independent"}, "axis": {"x": "independent", "y": "independent"}}
}
